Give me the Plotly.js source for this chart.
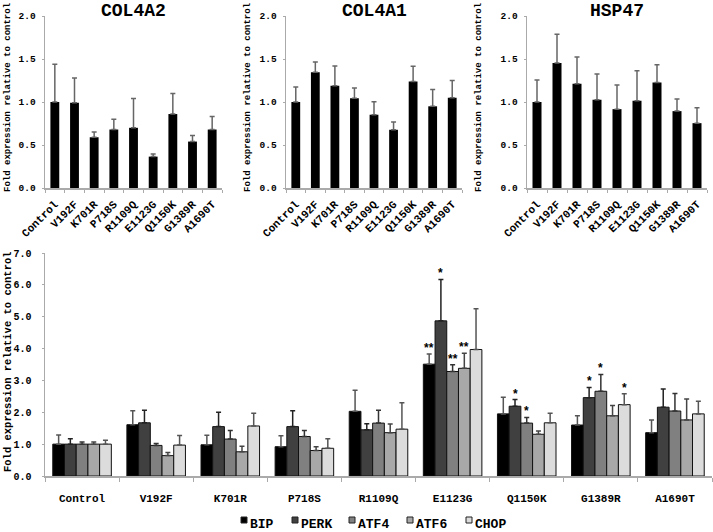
<!DOCTYPE html>
<html>
<head>
<meta charset="utf-8">
<script src="https://cdn.plot.ly/plotly-3.0.1.min.js"></script>
<style>
  body { margin: 0; background: #fff; }
  #plotArea { width: 713px; height: 532px; }
</style>
</head>
<body>
<div id="plotArea"></div>
<script>
// mutants shown on every panel
var mutants = ["Control", "V192F", "K701R", "P718S", "R1109Q", "E1123G", "Q1150K", "G1389R", "A1690T"];

// top panels: collagen / chaperone expression
var col4a2 = [1.0, 0.99, 0.59, 0.68, 0.70, 0.365, 0.86, 0.54, 0.68];
var col4a2Err = [0.44, 0.29, 0.06, 0.12, 0.34, 0.03, 0.24, 0.07, 0.15];
var col4a1 = [1.0, 1.345, 1.19, 1.043, 0.852, 0.677, 1.237, 0.95, 1.05];
var col4a1Err = [0.175, 0.12, 0.23, 0.12, 0.15, 0.09, 0.18, 0.195, 0.2];
var hsp47 = [1.0, 1.453, 1.213, 1.026, 0.917, 1.014, 1.228, 0.894, 0.754];
var hsp47Err = [0.255, 0.335, 0.31, 0.30, 0.28, 0.35, 0.206, 0.14, 0.18];

// bottom panel: UPR markers
var bip = [1.0, 1.61, 0.98, 0.92, 2.03, 3.51, 1.95, 1.60, 1.36];
var bipErr = [0.29, 0.44, 0.30, 0.34, 0.66, 0.32, 0.52, 0.29, 0.40];
var perk = [1.0, 1.67, 1.55, 1.55, 1.45, 4.87, 2.19, 2.46, 2.16];
var perkErr = [0.17, 0.39, 0.45, 0.50, 0.19, 1.30, 0.21, 0.32, 0.57];
var atf4 = [1.0, 0.96, 1.16, 1.24, 1.66, 3.28, 1.66, 2.66, 2.04];
var atf4Err = [0.07, 0.06, 0.27, 0.19, 0.40, 0.21, 0.18, 0.53, 0.55];
var atf6 = [1.0, 0.64, 0.76, 0.80, 1.36, 3.38, 1.31, 1.89, 1.76];
var atf6Err = [0.07, 0.10, 0.17, 0.12, 0.27, 0.47, 0.10, 0.32, 0.66];
var chop = [1.0, 0.97, 1.57, 0.87, 1.47, 3.97, 1.67, 2.24, 1.95];
var chopErr = [0.12, 0.30, 0.40, 0.30, 0.83, 1.28, 0.30, 0.34, 0.40];

// significance marks
var bipSig = ["", "", "", "", "", "**", "", "", ""];
var perkSig = ["", "", "", "", "", "*", "*", "*", ""];
var atf4Sig = ["", "", "", "", "", "**", "*", "*", ""];
var atf6Sig = ["", "", "", "", "", "**", "", "", ""];
var chopSig = ["", "", "", "", "", "", "", "*", ""];

var font = "Liberation Mono, Courier New, monospace";
var W = 713, H = 532;
function px(x) { return x / W; }
function py(y) { return 1 - y / H; }
function zeros(n) { var a = []; for (var i = 0; i < n; i++) a.push(0); return a; }

var data = [];

// top three single-series panels
var tops = [
    {name: "COL4A2", y: col4a2, err: col4a2Err, ax: ""},
    {name: "COL4A1", y: col4a1, err: col4a1Err, ax: "2"},
    {name: "HSP47", y: hsp47, err: hsp47Err, ax: "3"}
];
tops.forEach(function(t) {
    data.push({
        type: "bar",
        x: mutants,
        y: t.y,
        width: 0.45,
        xaxis: "x" + t.ax,
        yaxis: "y" + t.ax,
        marker: {color: "#000"},
        error_y: {type: "data", symmetric: false, array: t.err, arrayminus: zeros(t.err.length),
                  color: "#666", thickness: 1.5, width: 2.5},
        showlegend: false,
        hoverinfo: "skip"
    });
});

// bottom grouped panel
var series = [
    {name: "BIP", y: bip, err: bipErr, sig: bipSig, color: "#000000", ecol: "#555"},
    {name: "PERK", y: perk, err: perkErr, sig: perkSig, color: "#404040", ecol: "#222"},
    {name: "ATF4", y: atf4, err: atf4Err, sig: atf4Sig, color: "#808080", ecol: "#333"},
    {name: "ATF6", y: atf6, err: atf6Err, sig: atf6Sig, color: "#a8a8a8", ecol: "#444"},
    {name: "CHOP", y: chop, err: chopErr, sig: chopSig, color: "#dcdcdc", ecol: "#555"}
];
series.forEach(function(s) {
    data.push({
        type: "bar",
        name: s.name,
        x: mutants,
        y: s.y,
        xaxis: "x4",
        yaxis: "y4",
        marker: {color: s.color, line: {color: "#111", width: 1}},
        error_y: {type: "data", symmetric: false, array: s.err, arrayminus: zeros(s.err.length),
                  color: s.ecol, thickness: 1.5, width: 2.5},
        showlegend: false,
        hoverinfo: "skip"
    });
});

// annotations: panel titles, y titles, stars, legend
var annotations = [];
var shapes = [];
var titleX = [133.5, 374, 617];
var yTitleX = [8, 248, 479];
tops.forEach(function(t, i) {
    annotations.push({
        xref: "paper", yref: "paper", x: px(titleX[i]), y: py(11),
        xanchor: "center", yanchor: "middle",
        text: "<b>" + t.name + "</b>", showarrow: false,
        font: {family: font, size: 18, color: "#000"}
    });
    annotations.push({
        xref: "paper", yref: "paper", x: px(yTitleX[i]), y: py(97),
        xanchor: "center", yanchor: "middle",
        text: "<b>Fold expression relative to control</b>", showarrow: false, textangle: -90,
        font: {family: font, size: 9, color: "#000"}
    });
});
annotations.push({
    xref: "paper", yref: "paper", x: px(8), y: py(362),
    xanchor: "center", yanchor: "middle",
    text: "<b>Fold expression relative to control</b>", showarrow: false, textangle: -90,
    font: {family: font, size: 10.5, color: "#000"}
});

var bargap = 0.21;
var groupW = 1 - bargap;
var barW = groupW / series.length;
series.forEach(function(s, k) {
    var off = -groupW / 2 + barW * (k + 0.5);
    s.sig.forEach(function(mark, i) {
        if (!mark) return;
        annotations.push({
            xref: "x4", yref: "y4", x: i + off, y: s.y[i] + s.err[i],
            text: "<b>" + mark + "</b>", showarrow: false, yanchor: "bottom", yshift: -3,
            font: {family: "Liberation Sans, Arial, sans-serif", size: 12, color: "#000"}
        });
    });
});

// legend row under the bottom panel
var legendX = [241, 292, 349, 407, 466];
series.forEach(function(s, k) {
    shapes.push({
        type: "rect", xref: "paper", yref: "paper",
        x0: px(legendX[k]), x1: px(legendX[k] + 6), y0: py(523), y1: py(517),
        fillcolor: s.color, line: {color: "#222", width: 1}
    });
    annotations.push({
        xref: "paper", yref: "paper", x: px(legendX[k] + 7), y: py(524),
        xanchor: "left", yanchor: "middle",
        text: "<b>" + s.name + "</b>", showarrow: false,
        font: {family: font, size: 13, color: "#000"}
    });
});

function topX(d0, d1, anchor) {
    return {
        domain: [px(d0), px(d1)], anchor: anchor, type: "category",
        showline: true, linecolor: "#aaa", linewidth: 1.5,
        ticks: "outside", tickson: "boundaries", ticklen: 3, tickcolor: "#aaa",
        tickangle: -45, ticklabelstandoff: 4,
        tickfont: {family: font, size: 11, color: "#000", weight: "bold"},
        showgrid: false, fixedrange: true
    };
}
function topY(anchor) {
    return {
        domain: [py(188), py(16)], anchor: anchor, range: [0, 2], dtick: 0.5, tickformat: ".1f",
        showline: true, linecolor: "#aaa", linewidth: 1.5,
        ticks: "outside", ticklen: 2, tickcolor: "#aaa", ticklabelstandoff: 4,
        tickfont: {family: font, size: 9.5, color: "#000", weight: "bold"},
        showgrid: false, zeroline: false, fixedrange: true
    };
}

var layout = {
    width: W,
    height: H,
    margin: {l: 0, r: 0, t: 0, b: 0},
    paper_bgcolor: "#fff",
    plot_bgcolor: "#fff",
    barmode: "group",
    bargap: bargap,
    bargroupgap: 0,
    showlegend: false,
    font: {family: font, color: "#000"},
    xaxis: topX(45, 222, "y"), yaxis: topY("x"),
    xaxis2: topX(286, 462, "y2"), yaxis2: topY("x2"),
    xaxis3: topX(527, 707, "y3"), yaxis3: topY("x3"),
    xaxis4: {
        domain: [px(45), px(712)], anchor: "y4", type: "category",
        showline: true, linecolor: "#aaa", linewidth: 1.5,
        ticks: "outside", tickson: "boundaries", ticklen: 4, tickcolor: "#aaa",
        ticklabelstandoff: 11,
        tickfont: {family: font, size: 11, color: "#000", weight: "bold"},
        showgrid: false, fixedrange: true
    },
    yaxis4: {
        domain: [py(476), py(253)], anchor: "x4", range: [0, 7], dtick: 1, tickformat: ".1f",
        showline: true, linecolor: "#aaa", linewidth: 1.5,
        ticks: "outside", ticklen: 2, tickcolor: "#aaa", ticklabelstandoff: 8,
        tickfont: {family: font, size: 10, color: "#000", weight: "bold"},
        showgrid: false, zeroline: false, fixedrange: true
    },
    annotations: annotations,
    shapes: shapes
};

Plotly.newPlot("plotArea", data, layout, {displayModeBar: false, staticPlot: true});
</script>
</body>
</html>
